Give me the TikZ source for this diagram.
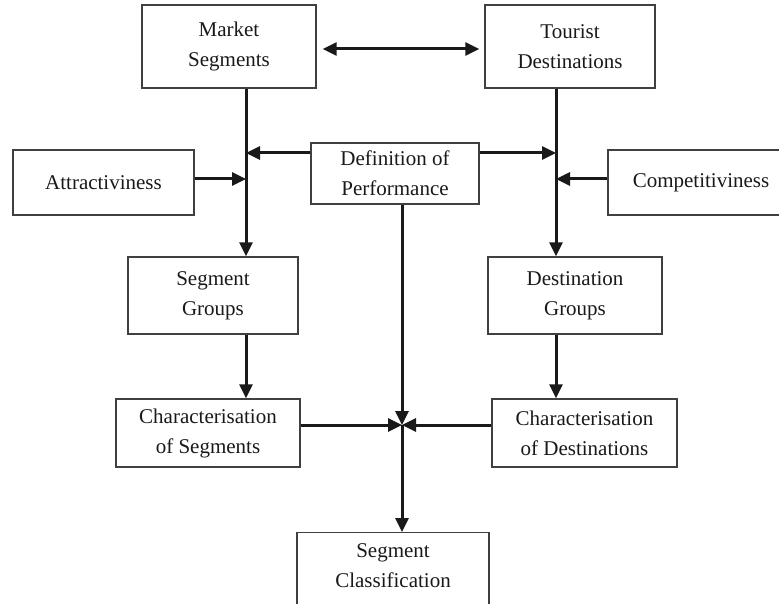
\documentclass[tikz,border=0pt]{standalone}
\usepackage{fontspec}
\setmainfont{Liberation Serif}
\usetikzlibrary{arrows.meta}
\begin{document}
\begin{tikzpicture}[x=1pt,y=-1pt,
  box/.style={draw=black!75, line width=1.4pt, rectangle, align=center, inner sep=0pt,
    text=black!90, font=\fontsize{21}{30}\selectfont},
  arr/.style={draw=black!90, line width=3pt, -{Triangle[length=14pt,width=13pt]}},
  dblarr/.style={draw=black!90, line width=3pt, {Triangle[length=14pt,width=13pt]}-{Triangle[length=14pt,width=13pt]}},
  txt/.style={align=center, inner sep=0pt, text=black!90, font=\fontsize{21}{30}\selectfont}]
\useasboundingbox (0,0) rectangle (779,604);
\clip (0,0) rectangle (779,604);
% boxes
\node[box, minimum width=174pt, minimum height=83pt] (ms) at (229,46.5) {Market\\Segments};
\node[box, minimum width=170pt, minimum height=83pt] (td) at (570,46.5) {Tourist\\Destinations};
\node[box, minimum width=168pt, minimum height=61pt] (def) at (395,173.5) {Definition of\\Performance};
\node[box, minimum width=181pt, minimum height=65pt] (attr) at (103.5,182.5) {Attractiviness};
\node[box, minimum width=186pt, minimum height=65pt] (comp) at (701,182.5) {Competitiviness};
\node[box, minimum width=170pt, minimum height=77pt] (sg) at (213,295.5) {Segment\\Groups};
\node[box, minimum width=174pt, minimum height=77pt] (dg) at (575,295.5) {Destination\\Groups};
\node[box, minimum width=184pt, minimum height=68pt] (cs) at (208,433) {Characterisation\\of Segments};
\node[box, minimum width=185pt, minimum height=68pt] (cd) at (584.5,433) {Characterisation\\of Destinations};
\node[box, minimum width=192pt, minimum height=100pt, anchor=north] (sc) at (393,532) {};
\node[txt] (sct) at (393,566) {Segment\\Classification};
% helper coordinates
\coordinate (L) at (246,0);
\coordinate (R) at (556,0);
\coordinate (C) at (402,425);
\coordinate (yM) at (0,49);
\coordinate (yA) at (0,153);
\coordinate (yB) at (0,179);
% connectors
\draw[dblarr, shorten <=6pt, shorten >=5pt] (ms.east |- yM) -- (td.west |- yM);
\draw[arr] (ms.south -| L) -- (sg.north -| L);
\draw[arr] (td.south -| R) -- (dg.north -| R);
\draw[arr] (def.west |- yA) -- (L |- yA);
\draw[arr] (def.east |- yA) -- (R |- yA);
\draw[arr] (attr.east |- yB) -- (L |- yB);
\draw[arr] (comp.west |- yB) -- (R |- yB);
\draw[arr] (sg.south -| L) -- (cs.north -| L);
\draw[arr] (dg.south -| R) -- (cd.north -| R);
\draw[arr] (def.south -| C) -- (C);
\draw[arr] (cs.east |- C) -- (C);
\draw[arr] (cd.west |- C) -- (C);
\draw[arr] (C) -- (sc.north -| C);
\end{tikzpicture}
\end{document}
